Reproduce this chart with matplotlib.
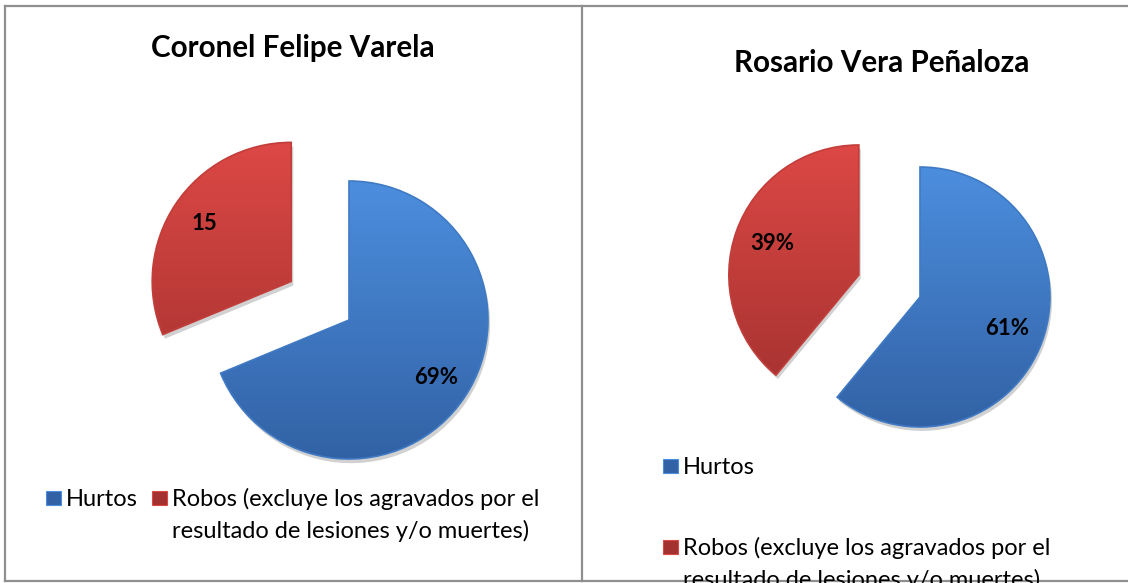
import matplotlib
matplotlib.use("Agg")
import matplotlib.pyplot as plt
import numpy as np
from matplotlib.patches import Rectangle, Wedge
from matplotlib.colors import LinearSegmentedColormap
from matplotlib.lines import Line2D

# ---- data ----
categories = ["Hurtos", "Robos (excluye los agravados por el\nresultado de lesiones y/o muertes)"]
titles = ["Coronel Felipe Varela", "Rosario Vera Peñaloza"]
values_cfv = [33, 15]          # Hurtos, Robos
labels_cfv = ["69%", "15"]
values_rvp = [61, 39]
labels_rvp = ["61%", "39%"]

W, H = 1128, 583
DPI = 100
fig = plt.figure(figsize=(W / DPI, H / DPI), dpi=DPI)
fig.patch.set_facecolor("white")

FONT = "Lato"
blue_top, blue_bot = "#4c8ede", "#3262a5"
red_top, red_bot = "#dc4845", "#a3312f"
LEG_FS = 17
TITLE_FS = 21.3
LAB_FS = 16


def fx(x):
    return x / W


def fy(y):
    return 1 - y / H


# background axis for borders
bg = fig.add_axes([0, 0, 1, 1])
bg.set_xlim(0, W)
bg.set_ylim(H, 0)
bg.axis("off")
border = "#8f8f8f"
for xs, ys in [((5, W), (6, 6)), ((5, 5), (6, 581)), ((582, 582), (6, 581)),
               ((5, W), (581, 581))]:
    bg.add_line(Line2D(xs, ys, color=border, lw=1.6))


def draw_pie(values, labels, cx, cy, r, pctdist, title, tx, ty):
    # axes in which 1 data unit == r pixels
    x0, x1, y0, y1 = -1.7, 1.3, -1.3, 1.7
    ax = fig.add_axes([fx(cx + x0 * r), fy(cy - y0 * r), (x1 - x0) * r / W, (y1 - y0) * r / H])
    ax.axis("off")
    wedges, texts, autotexts = ax.pie(
        values, explode=[0, 0.5], startangle=90, counterclock=False,
        colors=[blue_bot, red_bot], autopct="%1.0f%%", pctdistance=pctdist,
        wedgeprops=dict(linewidth=0), textprops=dict(fontfamily=FONT, fontweight="bold",
                                                    fontsize=LAB_FS, color="black"))
    cmaps = [LinearSegmentedColormap.from_list("b", [blue_bot, blue_top]),
             LinearSegmentedColormap.from_list("r", [red_bot, red_top])]
    grad = np.linspace(0, 1, 256).reshape(-1, 1)
    for w, cm in zip(wedges, cmaps):
        cxw, cyw = w.center
        # soft shadow
        sh = Wedge((cxw + 0.015, cyw - 0.03), w.r, w.theta1, w.theta2, facecolor="#000000",
                   alpha=0.18, lw=0, zorder=0.5)
        ax.add_patch(sh)
        im = ax.imshow(grad, cmap=cm, origin="lower", aspect="auto",
                       extent=[cxw - 1, cxw + 1, cyw - 1, cyw + 1], zorder=1.5)
        im.set_clip_path(w)
        rim = Wedge((cxw, cyw), w.r, w.theta1, w.theta2, facecolor="none",
                    edgecolor=cm(0.55), lw=1.2, zorder=1.6)
        ax.add_patch(rim)
    for t, lab in zip(autotexts, labels):
        t.set_text(lab)
        t.set_zorder(3)
    ax.set_xlim(x0, x1)
    ax.set_ylim(y0, y1)
    fig.text(fx(tx), fy(ty), title, ha="center", va="center", fontfamily=FONT,
             fontweight="bold", fontsize=TITLE_FS)
    return ax


draw_pie(values_cfv, labels_cfv, 349, 320, 139, 0.75, titles[0], 293, 48)
draw_pie(values_rvp, labels_rvp, 920, 297, 130, 0.71, titles[1], 882, 63)


def legend_item(x, y_base, color_top, color_bot, text):
    # marker square
    bg.add_patch(Rectangle((x, y_base - 15), 15, 14, facecolor=color_bot,
                           edgecolor=color_top, lw=0.8))
    bg.text(x + 20, y_base, text, ha="left", va="baseline", fontfamily=FONT,
            fontsize=LEG_FS, color="black")


# left legend (one row, second label wraps)
legend_item(46, 506, blue_top, blue_bot, categories[0])
legend_item(152, 506, red_top, red_bot, categories[1].split("\n")[0])
bg.text(172, 538, categories[1].split("\n")[1], ha="left", va="baseline", fontfamily=FONT,
        fontsize=LEG_FS, color="black")

# right legend (stacked)
legend_item(663, 474, blue_top, blue_bot, categories[0])
legend_item(663, 555, red_top, red_bot, categories[1].split("\n")[0])
bg.text(683, 587, categories[1].split("\n")[1], ha="left", va="baseline", fontfamily=FONT,
        fontsize=LEG_FS, color="black")

fig.savefig("out.png", dpi=DPI, facecolor="white")
